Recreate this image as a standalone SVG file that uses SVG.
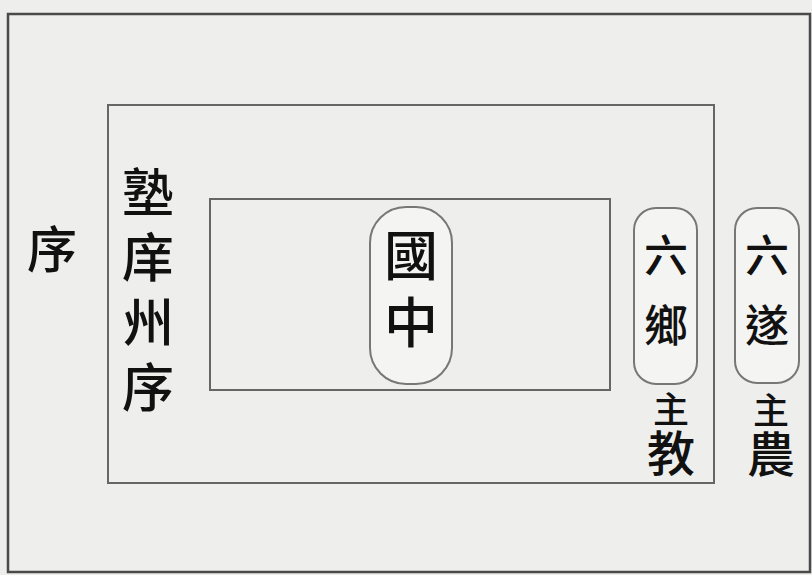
<svg xmlns="http://www.w3.org/2000/svg" width="812" height="575" viewBox="0 0 812 575">
<style>
.frame{fill:none;stroke:#4a4a4a;stroke-width:2.5}
.line{fill:none;stroke:#666;stroke-width:2}
.pill{fill:#f4f4f2;stroke:#777;stroke-width:2}
.t{font-family:"Noto Sans CJK TC","Noto Sans CJK SC",sans-serif;fill:#111;text-anchor:middle;font-weight:500}
.v{font-family:"Noto Sans CJK TC","Noto Sans CJK SC",sans-serif;fill:#111;font-weight:500;writing-mode:vertical-rl}
</style>
<rect x="0" y="0" width="812" height="575" fill="#eeeeec"/>
<g id="outer"><rect class="frame" x="8" y="14" width="802" height="558"/></g>
<g id="middle"><rect class="line" x="108" y="105" width="606" height="378"/></g>
<g id="inner"><rect class="line" x="210" y="199" width="400" height="191"/></g>
<g id="xu"><text class="t" x="52" y="268" font-size="50">序</text></g>
<g id="shuxiang"><text class="v" font-size="52" letter-spacing="13" x="148" y="166">塾庠州序</text></g>
<g id="guozhong"><rect class="pill" x="370" y="207" width="82" height="177" rx="36"/><text class="v" font-size="54" letter-spacing="13" x="411" y="228">國中</text></g>
<g id="liuxiang"><rect class="pill" x="634" y="208" width="63" height="176" rx="22"/><text class="v" font-size="44" letter-spacing="26" x="666" y="233">六鄉</text></g>
<g id="liusui"><rect class="pill" x="735" y="208" width="64" height="175" rx="22"/><text class="v" font-size="44" letter-spacing="26" x="767" y="233">六遂</text></g>
<g id="zhujiao"><text class="v" x="671" y="391" letter-spacing="2"><tspan font-size="36">主</tspan><tspan font-size="48">教</tspan></text></g>
<g id="zhunong"><text class="v" x="771" y="392" letter-spacing="2"><tspan font-size="36">主</tspan><tspan font-size="48">農</tspan></text></g>
<g id="connectors"></g>
</svg>
